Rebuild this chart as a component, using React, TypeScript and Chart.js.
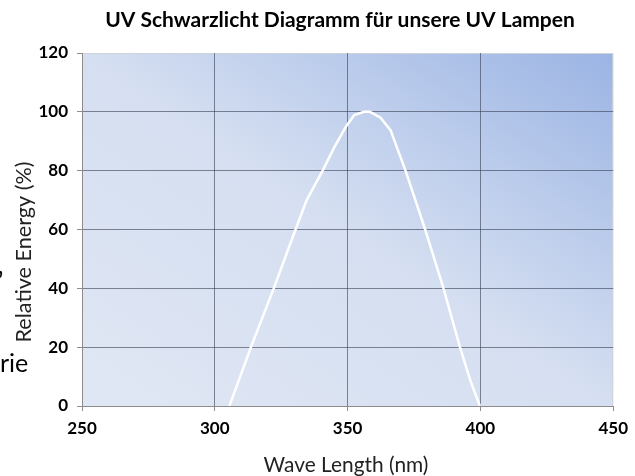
import React, { useEffect, useRef } from "react";
import { Chart, registerables } from "chart.js";

Chart.register(...registerables);

// ---- data ----
const wavelengths = [305.5, 313.6, 322.2, 330.4, 334.6, 340.6, 345, 349.4, 352.5, 356.2, 358.4, 362.4, 366.2, 371.8, 379.2, 386.1, 392.3, 396.2, 399.8];
const energies = [0, 20, 40, 60, 70, 80, 88, 95, 98.9, 100, 100, 98, 93.7, 80, 60, 40, 20, 8.7, 0];
const xTicks = [250, 300, 350, 400, 450];
const yTicks = [0, 20, 40, 60, 80, 100, 120];

const chartTitle = "UV Schwarzlicht Diagramm für unsere UV Lampen";
const xTitle = "Wave Length (nm)";
const yTitle = "Relative Energy (%)";
const strayTexts = ["rie", "\u2019"];

const FAMILY = "Lato, 'DejaVu Sans', sans-serif";

function fitFont(ctx: CanvasRenderingContext2D, text: string, weight: string, target: number) {
  ctx.font = `${weight} 20px ${FAMILY}`;
  const w = ctx.measureText(text).width;
  const size = (20 * target) / w;
  ctx.font = `${weight} ${size}px ${FAMILY}`;
  return size;
}

const backgroundPlugin = {
  id: "plotBackground",
  beforeDraw(chart: any) {
    const { ctx, chartArea } = chart;
    const { left, top, right, bottom } = chartArea;
    const w = right - left;
    const h = bottom - top;
    const d2 = w * w + h * h;
    const t = (2 * w * h) / d2;
    const g = ctx.createLinearGradient(left, bottom, left + t * h, bottom - t * w);
    g.addColorStop(0, "#e0e7f4");
    g.addColorStop(0.5, "#d5dff1");
    g.addColorStop(1, "#9bb4e4");
    ctx.save();
    ctx.fillStyle = g;
    ctx.fillRect(left, top, w, h);
    ctx.strokeStyle = "#cfd3da";
    ctx.lineWidth = 1;
    ctx.strokeRect(left + 0.5, top + 0.5, w - 1, h);
    ctx.restore();
  },
};

const textPlugin = {
  id: "texts",
  afterDraw(chart: any) {
    const { ctx } = chart;
    ctx.save();
    ctx.fillStyle = "#000";
    ctx.textAlign = "center";
    ctx.textBaseline = "middle";
    fitFont(ctx, chartTitle, "bold", 470);
    ctx.fillText(chartTitle, 340, 20);
    ctx.fillStyle = "#222";
    fitFont(ctx, xTitle, "normal", 165);
    ctx.fillText(xTitle, 346, 465);
    ctx.save();
    ctx.translate(24, 252);
    ctx.rotate(-Math.PI / 2);
    fitFont(ctx, yTitle, "normal", 181);
    ctx.fillText(yTitle, 0, 0);
    ctx.restore();
    ctx.fillStyle = "#000";
    ctx.textAlign = "left";
    ctx.textBaseline = "alphabetic";
    ctx.font = `normal 25px ${FAMILY}`;
    ctx.fillText(strayTexts[0], 0, 372);
    ctx.fillText(strayTexts[1], -2, 290);
    ctx.restore();
  },
};

export default function App() {
  const ref = useRef<HTMLCanvasElement | null>(null);
  useEffect(() => {
    if (!ref.current) return;
    const gridColor = "rgba(55,62,80,0.6)";
    const chart = new Chart(ref.current, {
      type: "scatter",
      data: {
        datasets: [
          {
            label: "UV",
            data: wavelengths.map((x, i) => ({ x, y: energies[i] })),
            showLine: true,
            borderColor: "#ffffff",
            borderWidth: 2.5,
            pointRadius: 0,
            tension: 0,
            fill: false,
          },
        ],
      },
      options: {
        animation: false,
        responsive: false,
        devicePixelRatio: 1,
        layout: { padding: { top: 53, right: 18, left: 0, bottom: 0 } },
        plugins: { legend: { display: false }, title: { display: false }, tooltip: { enabled: false } },
        scales: {
          x: {
            type: "linear",
            min: xTicks[0],
            max: xTicks[xTicks.length - 1],
            afterBuildTicks: (s: any) => {
              s.ticks = xTicks.map((v) => ({ value: v }));
            },
            afterFit: (s: any) => {
              s.height = 70;
            },
            ticks: {
              padding: 7,
              color: "#000",
              font: { family: FAMILY, size: 17, weight: "bold" },
            },
            grid: {
              color: (c: any) => (c.tick && c.tick.value === 450 ? "rgba(0,0,0,0)" : gridColor),
              tickColor: "#8c8c8c",
              tickLength: 5,
              lineWidth: 1,
            },
            border: { color: "#8c8c8c", width: 1 },
          },
          y: {
            type: "linear",
            min: yTicks[0],
            max: yTicks[yTicks.length - 1],
            afterBuildTicks: (s: any) => {
              s.ticks = yTicks.map((v) => ({ value: v }));
            },
            afterFit: (s: any) => {
              s.width = 82;
            },
            ticks: {
              padding: 9,
              color: "#000",
              font: { family: FAMILY, size: 17, weight: "bold" },
            },
            grid: {
              color: (c: any) => (c.tick && c.tick.value === 120 ? "rgba(0,0,0,0)" : gridColor),
              tickColor: "#8c8c8c",
              tickLength: 5,
              lineWidth: 1,
            },
            border: { color: "#8c8c8c", width: 1 },
          },
        },
      },
      plugins: [backgroundPlugin, textPlugin],
    });
    return () => chart.destroy();
  }, []);
  return (
    <div style={{ position: "fixed", left: 0, top: 0, width: 635, height: 476, background: "#fff" }}>
      <canvas ref={ref} width={635} height={476} style={{ display: "block" }} />
    </div>
  );
}
